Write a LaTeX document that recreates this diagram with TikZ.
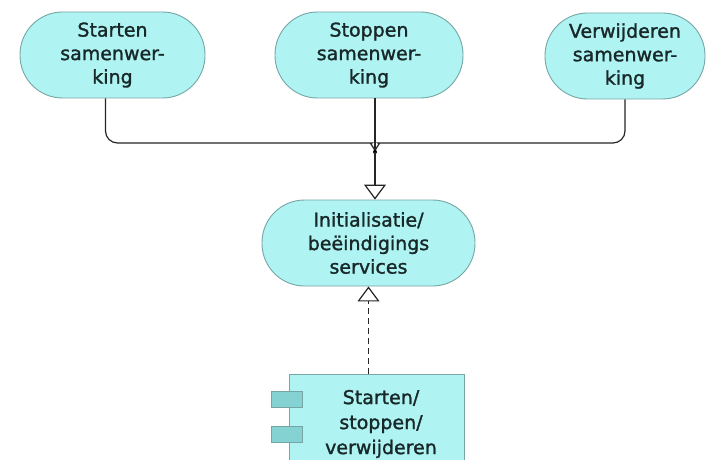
\documentclass[tikz,border=0pt]{standalone}
\usepackage{fontspec}
\newfontfamily\lblfont{DejaVu Sans}[FakeBold=1.4]
\usetikzlibrary{arrows.meta}
\definecolor{appfill}{RGB}{176,243,243}
\definecolor{appline}{RGB}{118,165,165}
\definecolor{tabfill}{RGB}{132,210,210}
\definecolor{ink}{RGB}{24,40,40}
\tikzset{
  svc/.style={draw=appline, fill=appfill, line width=0.9pt, rounded corners=42.5pt,
    minimum height=86pt, align=center, text=ink, inner sep=2pt,
    font=\lblfont\fontsize{19}{23.5}\selectfont},
  comp/.style={draw=appline, fill=appfill, line width=0.9pt, minimum width=175pt,
    minimum height=100pt, align=center, text=ink, inner sep=2pt,
    font=\lblfont\fontsize{19}{25}\selectfont},
  tab/.style={draw=appline, fill=tabfill, line width=0.8pt, minimum width=31pt,
    minimum height=16pt, inner sep=0pt},
  wire/.style={draw=black!85, line width=1.2pt},
  hollow/.style={-{Triangle[open, width=22pt, length=15pt, line width=1.2pt]}}
}
\begin{document}
\begin{tikzpicture}[x=1pt, y=-1pt]
  \fill[white] (0,0) rectangle (710,460);
  \useasboundingbox (0,0) rectangle (710,460);
  \clip (0,0) rectangle (710,460);

  % services
  \node[svc, minimum width=185pt] (start) at (112.5,55) {Starten\\samenwer-\\king};
  \node[svc, minimum width=188pt] (stop)  at (369,55)   {Stoppen\\samenwer-\\king};
  \node[svc, minimum width=160pt] (del)   at (625,56)   {Verwijderen\\samenwer-\\king};
  \node[svc, minimum width=213pt] (init)  at (368.5,243) {Initialisatie/\\beëindigings\\services};

  % application component
  \node[comp] (app) at (376.5,424)
    {\hspace*{9pt}Starten/\\\hspace*{9pt}stoppen/\\\hspace*{9pt}verwijderen};
  \node[tab] (tabA) at ([xshift=-1.5pt, yshift=-26pt]app.north west) {};
  \node[tab] (tabB) at ([xshift=-1.5pt, yshift=-61pt]app.north west) {};

  % junction of the three flows
  \coordinate (j) at (375,152);
  \draw[wire, rounded corners=12pt] ([xshift=-7pt]start.south) |- ([xshift=-15pt, yshift=9pt]j)
    [sharp corners] .. controls ([xshift=-7pt, yshift=9pt]j) and ([yshift=5pt]j) .. (j);
  \draw[wire, rounded corners=12pt] (del.south) |- ([xshift=15pt, yshift=9pt]j)
    [sharp corners] .. controls ([xshift=7pt, yshift=9pt]j) and ([yshift=5pt]j) .. (j);
  \draw[wire] ([xshift=6pt]stop.south) -- (j);
  \fill[black] (j) circle (2pt);
  \draw[wire, hollow] (j) -- (j |- init.north);

  % realization
  \draw[wire, hollow, dash pattern=on 6pt off 4pt] (init.south |- app.north) -- (init.south);
\end{tikzpicture}
\end{document}
